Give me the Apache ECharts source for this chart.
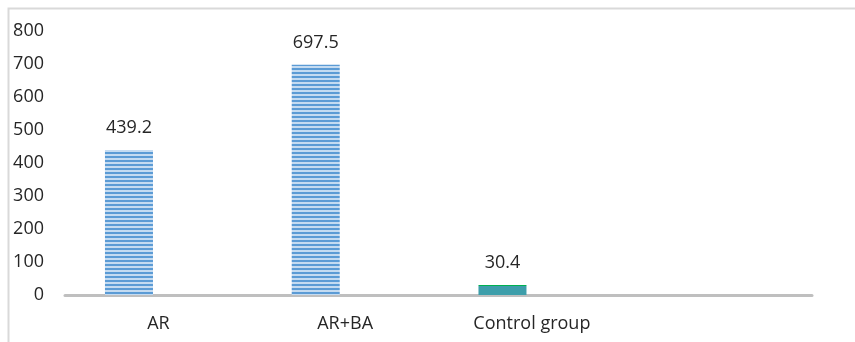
<!DOCTYPE html>
<html>
<head>
<meta charset="utf-8">
<script src="https://cdn.jsdelivr.net/npm/echarts@6/dist/echarts.min.js"></script>
<style>
  html, body { margin: 0; padding: 0; background: #fff; }
  #chart { width: 855px; height: 342px; }
</style>
</head>
<body>
<div id="chart"></div>
<script>
// Category names along the x axis (the last slot is left empty)
const categories = ['AR', 'AR+BA', 'Control group', ''];
// Measured values for each group
const values = [439.2, 697.5, 30.4, null];
// Y axis range
const yMin = 0;
const yMax = 800;
const yStep = 100;

// Horizontal stripe fill for the treated groups
function stripePattern() {
  const c = document.createElement('canvas');
  c.width = 4;
  c.height = 4;
  const ctx = c.getContext('2d');
  ctx.fillStyle = '#c4dbf1';
  ctx.fillRect(0, 0, 4, 4);
  ctx.fillStyle = '#5b9bd5';
  ctx.fillRect(0, 0, 4, 2);
  return c;
}
const stripes = { image: stripePattern(), repeat: 'repeat' };

// Teal fill with a thin green cap for the control group
const controlFill = {
  type: 'linear', x: 0, y: 0, x2: 0, y2: 1,
  colorStops: [
    { offset: 0, color: '#00b050' },
    { offset: 0.12, color: '#00b050' },
    { offset: 0.12, color: '#3d9eaa' },
    { offset: 1, color: '#3d9eaa' }
  ]
};

const font = '"Open Sans", "Liberation Sans", sans-serif';
const chart = echarts.init(document.getElementById('chart'), null, { renderer: 'canvas' });

chart.setOption({
  animation: false,
  backgroundColor: '#fff',
  graphic: [{
    type: 'rect',
    shape: { x: 8.5, y: 8.5, width: 900, height: 400 },
    style: { fill: 'none', stroke: '#d9d9d9', lineWidth: 2 },
    silent: true
  }],
  grid: { left: 65, right: 43, top: 31, bottom: 47 },
  xAxis: {
    type: 'category',
    data: categories,
    axisLine: { lineStyle: { color: '#bfbfbf', width: 3 } },
    axisTick: { show: false },
    axisLabel: { color: '#262626', fontSize: 18, fontFamily: font, margin: 20 }
  },
  yAxis: {
    type: 'value',
    min: yMin,
    max: yMax,
    interval: yStep,
    axisLine: { show: false },
    axisTick: { show: false },
    splitLine: { show: false },
    axisLabel: { color: '#262626', fontSize: 18, fontFamily: font, margin: 21 }
  },
  series: [
    {
      type: 'bar',
      barWidth: 48,
      barGap: '22.5%',
      data: values.map((v, i) => i === 2
        ? { value: v, itemStyle: { color: controlFill } }
        : { value: v, itemStyle: { color: stripes } }),
      label: {
        show: true,
        position: 'top',
        distance: 13,
        color: '#262626',
        fontSize: 18,
        fontFamily: font,
        formatter: p => p.value == null ? '' : p.value.toFixed(1)
      }
    },
    {
      // companion slot, holds no values
      type: 'bar',
      barWidth: 48,
      data: categories.map(() => null)
    }
  ]
});
</script>
</body>
</html>
